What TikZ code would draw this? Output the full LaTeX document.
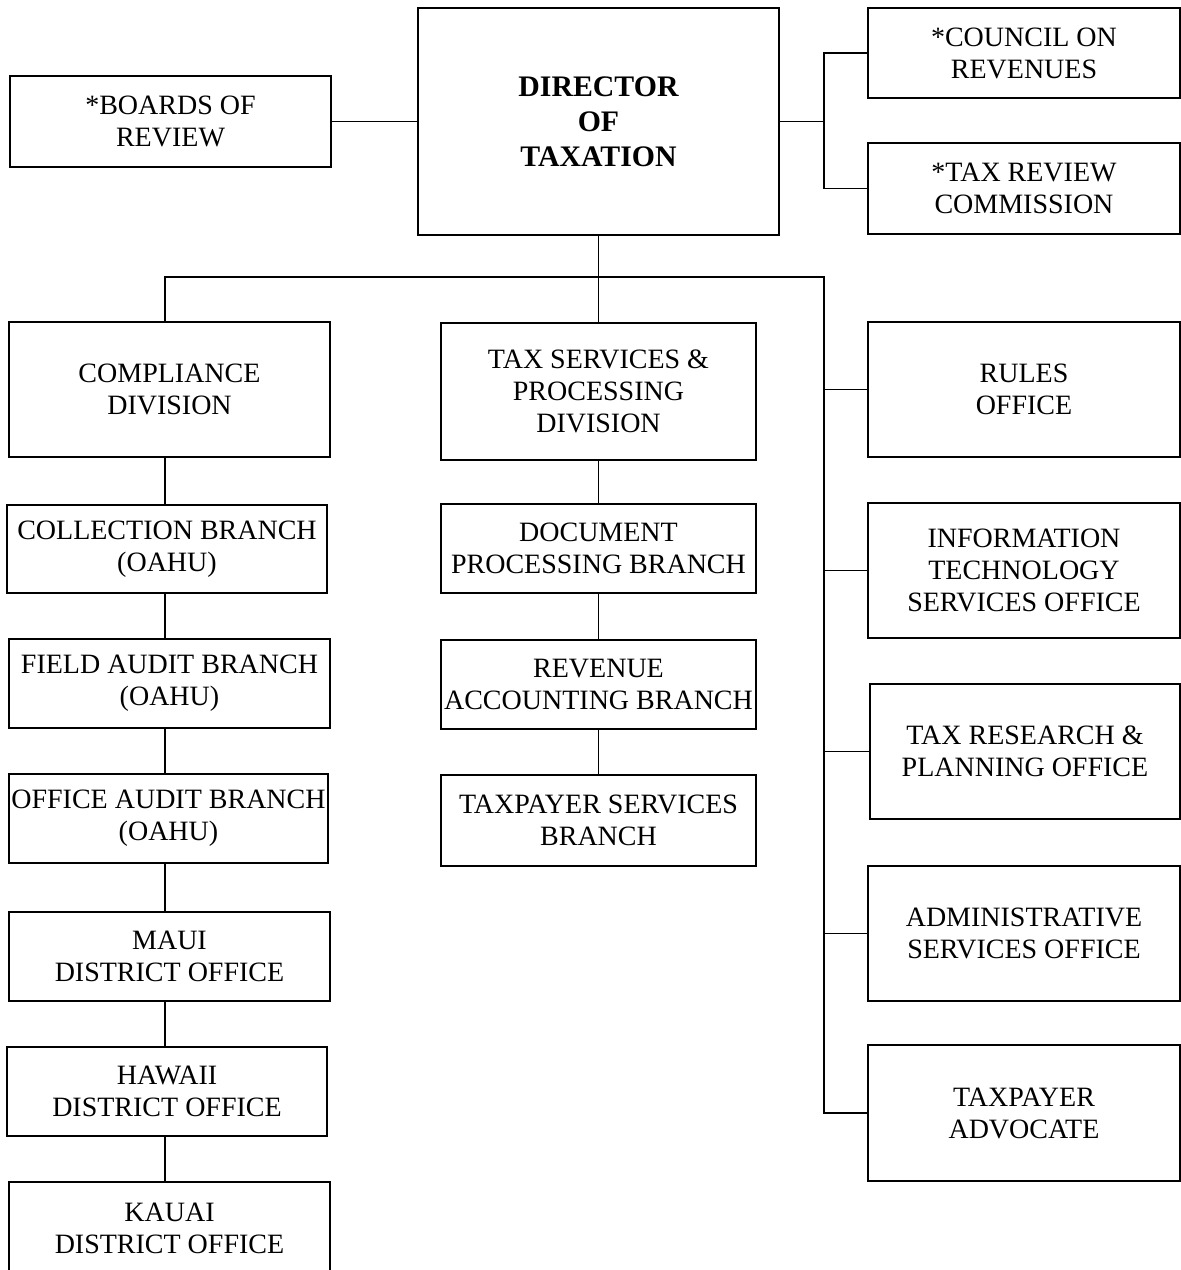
\documentclass[tikz,border=0pt]{standalone}
\usepackage{fontspec}
\setmainfont{Liberation Serif}
\begin{document}
\begin{tikzpicture}[x=1pt,y=-1pt,
  box/.style={draw, line width=1.8pt, rectangle, align=center, inner sep=0pt,
    font=\fontsize{28}{32}\selectfont},
  bigbox/.style={box, font=\fontsize{29.8}{35}\selectfont\bfseries},
  link/.style={line width=1.8pt}]
\useasboundingbox (0,0) rectangle (1181,1270);
% top level
\node[bigbox, minimum width=361, minimum height=227] (dir) at (598.5,121.5) {DIRECTOR\\OF\\TAXATION};
\node[box, minimum width=321, minimum height=91] (boards) at (170.5,121.5) {*BOARDS OF\\REVIEW};
\node[box, minimum width=312, minimum height=90] (council) at (1024,53) {*COUNCIL ON\\REVENUES};
\node[box, minimum width=312, minimum height=91] (trc) at (1024,188.5) {*TAX REVIEW\\COMMISSION};
% compliance column
\node[box, minimum width=321, minimum height=135] (comp) at (169.5,389.5) {COMPLIANCE\\DIVISION};
\node[box, minimum width=320, minimum height=88] (coll) at (167,549) {COLLECTION BRANCH\\(OAHU)};
\node[box, minimum width=321, minimum height=89] (field) at (169.5,683.5) {FIELD AUDIT BRANCH\\(OAHU)};
\node[box, minimum width=319, minimum height=89] (oaudit) at (168.5,818.5) {OFFICE AUDIT BRANCH\\(OAHU)};
\node[box, minimum width=321, minimum height=89] (maui) at (169.5,956.5) {MAUI\\DISTRICT OFFICE};
\node[box, minimum width=320, minimum height=89] (hawaii) at (167,1091.5) {HAWAII\\DISTRICT OFFICE};
\node[box, minimum width=321, minimum height=93] (kauai) at (169.5,1228.5) {KAUAI\\DISTRICT OFFICE};
% tax services column
\node[box, minimum width=315, minimum height=137] (tspd) at (598.5,391.5) {TAX SERVICES \&\\PROCESSING\\DIVISION};
\node[box, minimum width=315, minimum height=89] (doc) at (598.5,548.5) {DOCUMENT\\PROCESSING BRANCH};
\node[box, minimum width=315, minimum height=89] (rev) at (598.5,684.5) {REVENUE\\ACCOUNTING BRANCH};
\node[box, minimum width=315, minimum height=91] (tps) at (598.5,820.5) {TAXPAYER SERVICES\\BRANCH};
% staff offices
\node[box, minimum width=312, minimum height=135] (rules) at (1024,389.5) {RULES\\OFFICE};
\node[box, minimum width=312, minimum height=135] (itso) at (1024,570.5) {INFORMATION\\TECHNOLOGY\\SERVICES OFFICE};
\node[box, minimum width=310, minimum height=135] (res) at (1025,751.5) {TAX RESEARCH \&\\PLANNING OFFICE};
\node[box, minimum width=312, minimum height=135] (admin) at (1024,933.5) {ADMINISTRATIVE\\SERVICES OFFICE};
\node[box, minimum width=312, minimum height=136] (adv) at (1024,1113) {TAXPAYER\\ADVOCATE};
% junctions
\coordinate (jL) at (165,277);
\coordinate (jR) at (824,277);
\coordinate (jT) at (824,53);
% connectors
\draw[link] (dir.west) -- (boards.east);
\draw[link] (dir.east) -- (dir.east -| jT);
\draw[link] (council.west) -- (jT) |- (trc.west);
\draw[link] (dir.south) -- (dir.south |- jL);
\draw[link] (comp.north -| jL) -- (jL) -- (jR) |- (adv.west);
\draw[link] (tspd.north) -- (tspd.north |- jL);
\foreach \n in {rules,itso,res,admin}{\draw[link] (\n.west) -- (\n.west -| jR);}
\draw[link] (comp.south -| jL) -- (coll.north -| jL);
\draw[link] (coll.south -| jL) -- (field.north -| jL);
\draw[link] (field.south -| jL) -- (oaudit.north -| jL);
\draw[link] (oaudit.south -| jL) -- (maui.north -| jL);
\draw[link] (maui.south -| jL) -- (hawaii.north -| jL);
\draw[link] (hawaii.south -| jL) -- (kauai.north -| jL);
\draw[link] (tspd.south) -- (doc.north);
\draw[link] (doc.south) -- (rev.north);
\draw[link] (rev.south) -- (tps.north);
\end{tikzpicture}
\end{document}
